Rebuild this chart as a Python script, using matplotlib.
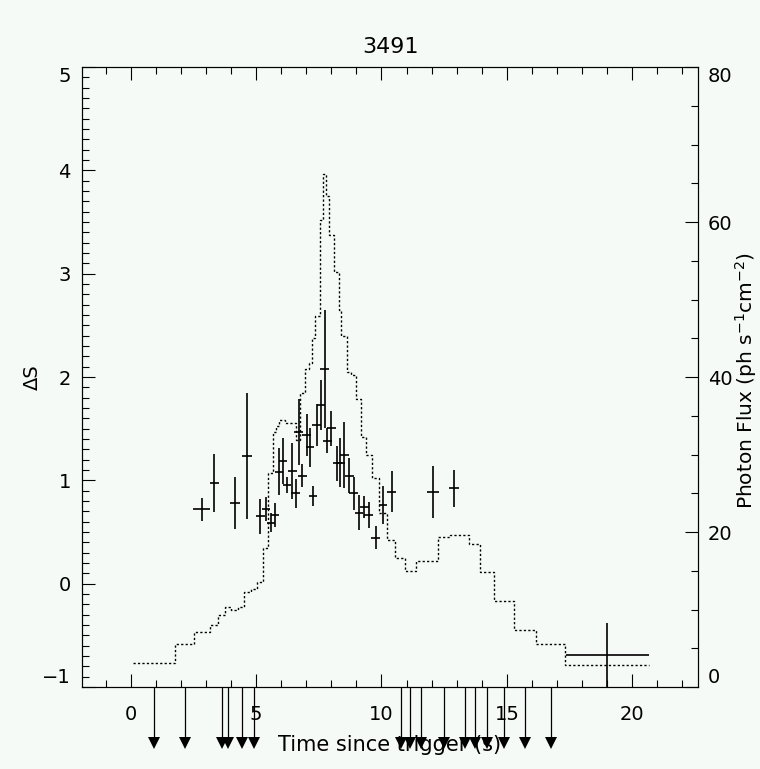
import matplotlib
matplotlib.use('Agg')
import matplotlib.pyplot as plt
from matplotlib.ticker import MultipleLocator
import matplotlib.transforms as mtransforms

# ---------------- data ----------------
title = "3491"
x_label = "Time since trigger (s)"
y_label = "ΔS"
y2_label = r"Photon Flux (ph s$^{-1}$cm$^{-2}$)"

# ΔS points (time, half-width, value, error)
t_pts = [2.83, 3.34, 4.16, 4.64, 5.16, 5.41, 5.58, 5.76, 5.92, 6.08,
         6.24, 6.45, 6.58, 6.70, 6.85, 7.03, 7.14, 7.27, 7.42, 7.58,
         7.73, 7.84, 8.00, 8.23, 8.36, 8.52, 8.71, 8.90, 9.11, 9.31,
         9.49, 9.77, 10.06, 10.40, 12.06, 12.91, 19.0]
t_half = [0.33, 0.19, 0.20, 0.19, 0.18, 0.16, 0.16, 0.17, 0.17, 0.16,
          0.17, 0.18, 0.18, 0.18, 0.18, 0.18, 0.16, 0.17, 0.18, 0.17,
          0.19, 0.18, 0.19, 0.18, 0.18, 0.19, 0.18, 0.18, 0.17, 0.18,
          0.18, 0.17, 0.17, 0.16, 0.23, 0.20, 1.66]
ds_val = [0.720, 0.972, 0.778, 1.236, 0.652, 0.723, 0.590, 0.665, 1.084, 1.188,
          0.953, 1.091, 0.875, 1.471, 1.046, 1.439, 1.320, 0.849, 1.536, 1.730,
          2.075, 1.384, 1.504, 1.165, 1.171, 1.246, 1.043, 0.875, 0.687, 0.745,
          0.665, 0.445, 0.762, 0.891, 0.885, 0.923, -0.693]
ds_err = [0.11, 0.28, 0.25, 0.61, 0.17, 0.12, 0.09, 0.12, 0.23, 0.22,
          0.08, 0.27, 0.14, 0.32, 0.11, 0.20, 0.19, 0.10, 0.20, 0.24,
          0.57, 0.12, 0.17, 0.17, 0.24, 0.32, 0.17, 0.16, 0.17, 0.105,
          0.13, 0.11, 0.18, 0.20, 0.25, 0.18, 0.31]

# Photon flux light curve (bin edges and values)
flux_edges = [0.1, 1.78, 2.53, 3.17, 3.47, 3.78, 4.02, 4.28, 4.52, 4.79,
              5.05, 5.28, 5.48, 5.68, 5.81, 5.93, 6.14, 6.58, 6.74, 6.94,
              7.10, 7.25, 7.34, 7.54, 7.67, 7.80, 7.90, 8.10, 8.31, 8.40,
              8.63, 8.80, 8.97, 9.17, 9.37, 9.64, 9.92, 10.22, 10.53, 10.93,
              11.37, 12.26, 12.72, 13.50, 13.92, 14.49, 15.29, 16.15, 17.32, 20.65]
flux_vals = [3.06, 5.6, 7.06, 8.0, 9.33, 10.28, 9.89, 10.28, 12.2, 12.7,
             13.5, 18.0, 27.6, 32.9, 33.7, 34.5, 34.1, 31.9, 37.9, 41.0,
             41.8, 45.0, 47.9, 60.3, 66.2, 63.3, 58.3, 53.5, 48.6, 45.3,
             40.6, 40.2, 37.2, 32.3, 29.9, 27.0, 22.5, 19.0, 16.7, 15.0,
             16.2, 19.3, 19.6, 18.45, 14.8, 11.1, 7.35, 5.5, 2.84]

# arrow markers below the time axis
arrow_t = [0.93, 2.18, 3.66, 3.88, 4.42, 4.91, 10.77, 11.13, 11.57, 12.50,
           13.32, 13.72, 14.21, 14.89, 15.72, 16.75]

x_ticks = [0, 5, 10, 15, 20]
y_ticks = [-1, 0, 1, 2, 3, 4, 5]
y2_ticks = [0, 20, 40, 60, 80]

# ---------------- figure ----------------
bg = '#f6faf7'
plt.rcParams['font.family'] = ['DejaVu Sans']
fig = plt.figure(figsize=(7.6, 7.69), dpi=100, facecolor=bg)
ax = fig.add_axes([82 / 760, 1 - 687 / 769, 616 / 760, 620 / 769])
ax.set_facecolor(bg)
ax2 = ax.twinx()

ax.set_xlim(-1.94, 22.62)
ax.set_ylim(-1, 5)
ax2.set_ylim(0, 80)

ax2.stairs(flux_vals, flux_edges, baseline=None, color='k', lw=1.0,
           linestyle=(0, (1.6, 1.6)))

ax.errorbar(t_pts, ds_val, xerr=t_half, yerr=ds_err, fmt='none',
            ecolor='k', elinewidth=1.2, capsize=0)

# arrows
trans = mtransforms.blended_transform_factory(ax.transData, ax.transAxes)
for t in arrow_t:
    ax.plot([t, t], [0, -0.085], transform=trans, color='k', lw=0.9,
            clip_on=False, solid_capstyle='butt')
    ax.plot([t], [-0.091], marker='v', ms=8.8, mew=0, color='k',
            transform=trans, clip_on=False)

# ticks
fs = 14
ax.set_xticks(x_ticks)
ax.xaxis.set_minor_locator(MultipleLocator(1))
ax.set_yticks(y_ticks)
ax.yaxis.set_minor_locator(MultipleLocator(0.1))
ax.tick_params(axis='x', which='both', direction='in', top=True, bottom=True,
               labelsize=fs, pad=13)
ax.tick_params(axis='y', which='both', direction='in', left=True, right=False,
               labelsize=fs, pad=8)
ax.tick_params(which='major', length=9.5, width=0.8)
ax.tick_params(which='minor', length=5, width=0.8)

ax2.set_yticks(y2_ticks)
ax2.yaxis.set_minor_locator(MultipleLocator(5))
ax2.tick_params(axis='y', which='both', direction='in', right=True, labelsize=fs, pad=7)
ax2.tick_params(which='major', length=9.5, width=0.8)
ax2.tick_params(which='minor', length=5, width=0.8)

for sp in list(ax.spines.values()) + list(ax2.spines.values()):
    sp.set_linewidth(0.8)

# end tick labels kept inside range
yl = ax.get_yticklabels()
yl[0].set_verticalalignment('bottom')
yl[-1].set_verticalalignment('top')
yl2 = ax2.get_yticklabels()
yl2[0].set_verticalalignment('bottom')
yl2[-1].set_verticalalignment('top')

ax.set_title(title, fontsize=16, pad=10)
ax.set_xlabel(x_label, fontsize=15)
ax.xaxis.set_label_coords(0.5, -0.078)
ax.set_ylabel(y_label, fontsize=fs)
ax.yaxis.set_label_coords(-0.066, 0.5)
ax2.set_ylabel(y2_label, fontsize=14.5)
ax2.yaxis.set_label_coords(1.057, 0.495)

fig.savefig('out.png', dpi=100, facecolor=bg)
